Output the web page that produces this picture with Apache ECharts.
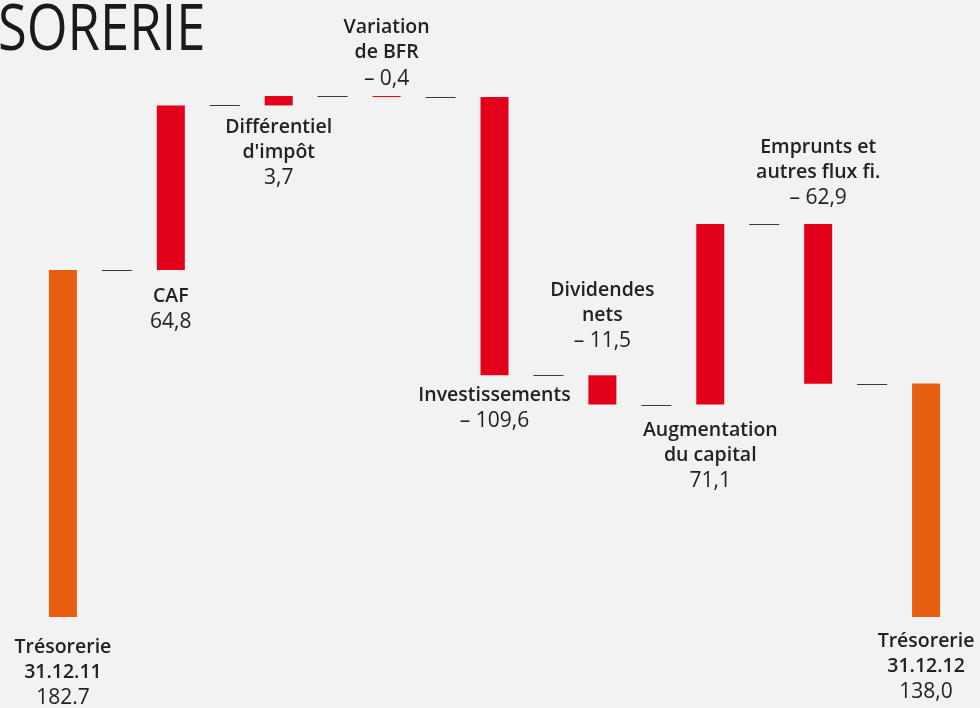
<!DOCTYPE html>
<html>
<head>
<meta charset="utf-8">
<script src="https://cdn.jsdelivr.net/npm/echarts@6/dist/echarts.min.js"></script>
<style>
  html, body { margin: 0; padding: 0; background: #f2f2f2; }
  #chart { width: 980px; height: 708px; }
</style>
</head>
<body>
<div id="chart"></div>
<script>
// données du graphique (en M€)
var categories = ['Trésorerie 31.12.11', 'CAF', "Différentiel d'impôt", 'Variation de BFR', 'Investissements',
                  'Dividendes nets', 'Augmentation du capital', 'Emprunts et autres flux fi.', 'Trésorerie 31.12.12'];
var nameLines = [['Trésorerie', '31.12.11'], ['CAF'], ['Différentiel', "d'impôt"], ['Variation', 'de BFR'],
                 ['Investissements'], ['Dividendes', 'nets'], ['Augmentation', 'du capital'],
                 ['Emprunts et', 'autres flux fi.'], ['Trésorerie', '31.12.12']];
var flows = [182.7, 64.8, 3.7, -0.4, -109.6, -11.5, 71.1, -62.9, 138.0];
var isTotal = [true, false, false, false, false, false, false, false, true];
var valueLabels = ['182.7', '64,8', '3,7', '– 0,4', '– 109,6', '– 11,5', '71,1', '– 62,9', '138,0'];

// axe vertical tronqué (les soldes partent du bas)
var yMin = 46, yMax = 265;

// mise en page des étiquettes
var labelSide = ['bottom', 'bottom', 'bottom', 'top', 'bottom', 'top', 'bottom', 'top', 'bottom'];
var labelGap = [17.5, 13.5, 9.5, 4, 7.5, 20.5, 13.5, 12.5, 11.5];

var ORANGE = '#e85e10';
var RED = '#e2001a';

var baseData = [], barData = [], steps = [];
var run = 0;
for (var i = 0; i < flows.length; i++) {
    var lo, hi;
    if (isTotal[i]) {
        lo = yMin; hi = flows[i]; run = flows[i];
    } else {
        var end = +(run + flows[i]).toFixed(1);
        lo = Math.min(run, end); hi = Math.max(run, end); run = end;
    }
    baseData.push(lo);
    var txt = nameLines[i].map(function (s) { return '{n|' + s + '}'; }).join('\n') + '\n{v|' + valueLabels[i] + '}';
    barData.push({
        value: +(hi - lo).toFixed(1),
        itemStyle: { color: isTotal[i] ? ORANGE : RED },
        label: { show: true, position: labelSide[i], distance: labelGap[i], formatter: txt }
    });
    if (i < flows.length - 1) steps.push([i, run]);
}

var myChart = echarts.init(document.getElementById('chart'));
var option = {
    backgroundColor: '#f2f2f2',
    animation: false,
    graphic: [{
        type: 'text',
        left: -2,
        top: 0,
        scaleX: 0.82,
        style: {
            text: 'SORERIE',
            font: '400 64px "Open Sans"',
            fill: '#1a1a1a'
        }
    }],
    grid: { left: 9, width: 971, top: 61, bottom: 91 },
    xAxis: {
        type: 'category',
        data: categories,
        show: false
    },
    yAxis: {
        type: 'value',
        min: yMin,
        max: yMax,
        show: false,
        splitLine: { show: false }
    },
    series: [
        {
            name: 'base',
            type: 'bar',
            stack: 'w',
            barWidth: 28,
            itemStyle: { color: 'transparent' },
            silent: true,
            data: baseData
        },
        {
            name: 'flux',
            type: 'bar',
            stack: 'w',
            barWidth: 28,
            label: {
                fontFamily: 'Open Sans',
                align: 'center',
                rich: {
                    n: { fontFamily: 'Open Sans', fontSize: 19.5, fontWeight: 600, color: '#222', lineHeight: 25 },
                    v: { fontFamily: 'Open Sans', fontSize: 21, fontWeight: 400, color: '#222', lineHeight: 27 }
                }
            },
            data: barData
        },
        {
            name: 'liaisons',
            type: 'custom',
            silent: true,
            renderItem: function (params, api) {
                var p = api.coord([api.value(0), api.value(1)]);
                var w = api.size([1, 0])[0];
                var cx = p[0] + w / 2;
                var y = Math.round(p[1]) + 0.5;
                return {
                    type: 'line',
                    shape: { x1: cx - 15, y1: y, x2: cx + 15, y2: y },
                    style: { stroke: '#3a3a3a', lineWidth: 1 }
                };
            },
            data: steps
        }
    ]
};
myChart.setOption(option);
</script>
</body>
</html>
